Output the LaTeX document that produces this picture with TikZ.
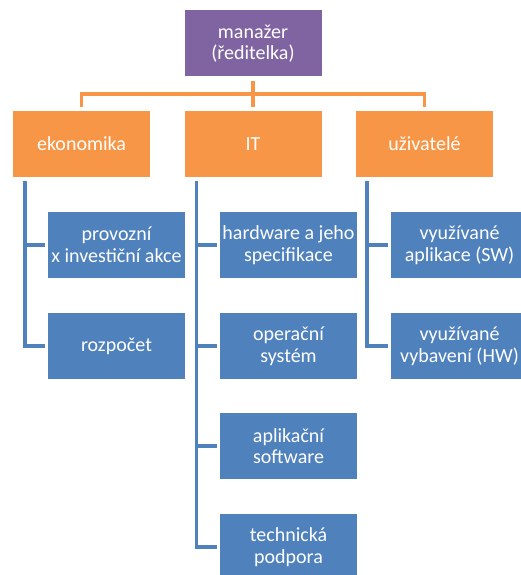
\documentclass[tikz,border=0pt]{standalone}
\usepackage{fontspec}
\setmainfont{Carlito}
\definecolor{cpurple}{HTML}{8064A2}
\definecolor{corange}{HTML}{F79646}
\definecolor{cblue}{HTML}{4F81BD}
\begin{document}
\begin{tikzpicture}[x=1pt,y=-1pt,
  box/.style={rectangle, minimum width=137pt, minimum height=66pt, inner sep=0pt,
    align=center, text=white, font=\fontsize{20}{21.7}\selectfont},
  topbox/.style={box, fill=cpurple},
  midbox/.style={box, fill=corange},
  leafbox/.style={box, fill=cblue},
  oline/.style={draw=corange, line width=3.6pt},
  bline/.style={draw=cblue, line width=3.4pt}]
\clip (0,0) rectangle (521,575);
\fill[white] (0,0) rectangle (521,575);
\node[topbox] (m) at (253,43.5) {manažer\\(ředitelka)};
\node[midbox] (eko) at (81.5,144) {ekonomika};
\node[midbox] (it) at (253,144) {IT};
\node[midbox] (uzi) at (424.5,144) {uživatelé};
\node[leafbox] (e1) at (116.5,245) {provozní\\x investiční akce};
\node[leafbox] (e2) at (116.5,346) {rozpočet};
\node[leafbox] (i1) at (288.5,245) {hardware a jeho\\specifikace};
\node[leafbox] (i2) at (288.5,346) {operační\\systém};
\node[leafbox] (i3) at (288.5,446) {aplikační\\software};
\node[leafbox] (i4) at (288.5,547) {technická\\podpora};
\node[leafbox] (u1) at (459.5,245) {využívané\\aplikace (SW)};
\node[leafbox] (u2) at (459.5,346) {využívané\\vybavení (HW)};
\coordinate (bus) at (253,94);
\draw[oline] ([yshift=-4pt]m.south) -- ([yshift=4pt]it.north);
\draw[oline] ([yshift=4pt]eko.north) |- (bus) -| ([yshift=4pt]uzi.north);
\foreach \c in {e1,e2}
  \draw[bline] ([xshift=12pt,yshift=-4pt]eko.south west) |- ([xshift=-3pt]\c.west);
\foreach \c in {i1,i2,i3,i4}
  \draw[bline] ([xshift=12pt,yshift=-4pt]it.south west) |- ([xshift=-3pt]\c.west);
\foreach \c in {u1,u2}
  \draw[bline] ([xshift=11pt,yshift=-4pt]uzi.south west) |- ([xshift=-3pt]\c.west);
\end{tikzpicture}
\end{document}
